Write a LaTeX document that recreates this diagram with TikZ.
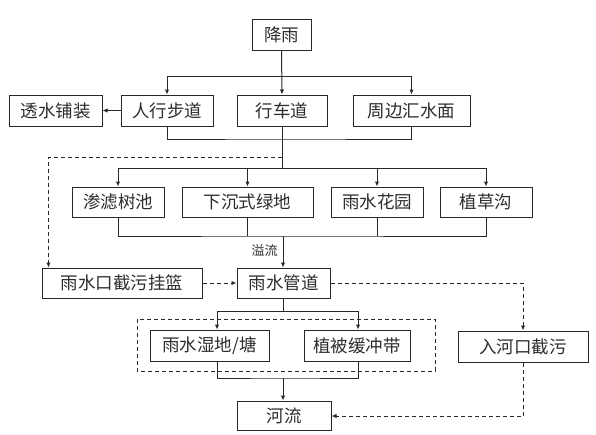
\documentclass[tikz,border=0pt]{standalone}
\usepackage{fontspec}
\setmainfont{Noto Sans CJK SC}
\newfontfamily\cjk{Noto Sans CJK SC}
\usetikzlibrary{arrows.meta}
\definecolor{ln}{RGB}{40,40,40}
\definecolor{tx}{RGB}{45,45,45}
\tikzset{
  box/.style={draw=ln, line width=1pt, rectangle, inner sep=0pt, text=tx,
    font=\cjk\fontsize{17.5}{20}\selectfont, minimum height=31pt},
  ln/.style={draw=ln, line width=1pt},
  arr/.style={ln, -{Latex[length=5pt,width=4.5pt]}},
  dsh/.style={ln, dash pattern=on 4pt off 3pt},
  darr/.style={dsh, -{Latex[length=5pt,width=4.5pt]}},
}
\begin{document}
\begin{tikzpicture}[x=1pt,y=-1pt]
\useasboundingbox[fill=white] (0,0) rectangle (596,434);
% nodes
\node[box, minimum width=59pt] (rain) at (281.5,34.5) {降雨};
\node[box, minimum width=93pt] (perm) at (55.5,110.5) {透水铺装};
\node[box, minimum width=92pt] (ped) at (167,110.5) {人行步道};
\node[box, minimum width=90pt] (car) at (282,110.5) {行车道};
\node[box, minimum width=117pt] (sur) at (411.5,110.5) {周边汇水面};
\node[box, minimum width=92pt, minimum height=30pt] (shu) at (118,202) {渗滤树池};
\node[box, minimum width=131pt, minimum height=30pt] (xia) at (247.5,202) {下沉式绿地};
\node[box, minimum width=92pt, minimum height=30pt] (hua) at (377,202) {雨水花园};
\node[box, minimum width=92pt, minimum height=30pt] (cao) at (486,202) {植草沟};
\node[box, minimum width=160pt, minimum height=30pt] (bask) at (122,283) {雨水口截污挂篮};
\node[box, minimum width=93pt, minimum height=30pt] (pipe) at (283.5,283) {雨水管道};
\node[box, minimum width=130pt] (inlet) at (523,346.5) {入河口截污};
\node[box, minimum width=119pt] (wet) at (209.5,345.5) {雨水湿地/塘};
\node[box, minimum width=106pt] (buf) at (357,345.5) {植被缓冲带};
\node[box, minimum width=94pt, minimum height=29pt] (river) at (284,415.5) {河流};
\node[text=tx, font=\cjk\fontsize{13}{14}\selectfont, inner sep=0pt] (yl) at (264.5,251) {溢流};
% dashed enclosure
\draw[dsh] (137,319) rectangle (435,371);
% top level
\coordinate (j1) at (282,76);
\draw[arr] (rain.south) -- (car.north);
\draw[ln] (j1 -| ped) -- (j1 -| sur);
\draw[arr] (j1 -| ped) -- (ped.north);
\draw[arr] (j1 -| sur) -- (sur.north);
\draw[arr] (ped.west) -- (perm.east);
% row 1 collection
\coordinate (j2) at (282,139);
\coordinate (j3) at (282,168);
\draw[ln] (ped.south) |- (j2) -| (sur.south);
\draw[ln] (car.south) -- (j3);
\draw[ln] (j3 -| shu) -- (j3 -| cao);
\draw[arr] (j3 -| shu) -- (shu.north);
\draw[arr] (j3 -| xia) -- (xia.north);
\draw[arr] (j3 -| hua) -- (hua.north);
\draw[arr] (j3 -| cao) -- (cao.north);
% dashed bypass to basket
\coordinate (d1) at (282,157);
\draw[darr] (d1) -| ([xshift=7pt]bask.north west);
% row 2 collection
\coordinate (j4) at (283,236);
\draw[ln] (shu.south) |- (j4) -| (cao.south);
\draw[ln] (xia.south) -- (xia.south |- j4);
\draw[ln] (hua.south) -- (hua.south |- j4);
\draw[arr] (j4) -- (j4 |- pipe.north);
% basket to pipe, pipe to inlet
\draw[darr] (bask.east) -- (pipe.west);
\draw[darr] (pipe.east) -| (inlet.north);
% pipe to wetlands
\coordinate (j5) at (283,311);
\coordinate (wa) at (217,311);
\coordinate (ba) at (358,311);
\draw[ln] (pipe.south -| j5) -- (j5);
\draw[ln] (wa) -- (ba);
\draw[arr] (wa) -- (wa |- wet.north);
\draw[arr] (ba) -- (ba |- buf.north);
% wetlands to river
\coordinate (j6) at (283,378);
\draw[ln] (wa |- wet.south) |- (j6) -| (ba |- buf.south);
\draw[arr] (j6) -- (j6 |- river.north);
% inlet to river
\draw[darr] (inlet.south) |- (river.east |- 0,416);
\end{tikzpicture}
\end{document}
